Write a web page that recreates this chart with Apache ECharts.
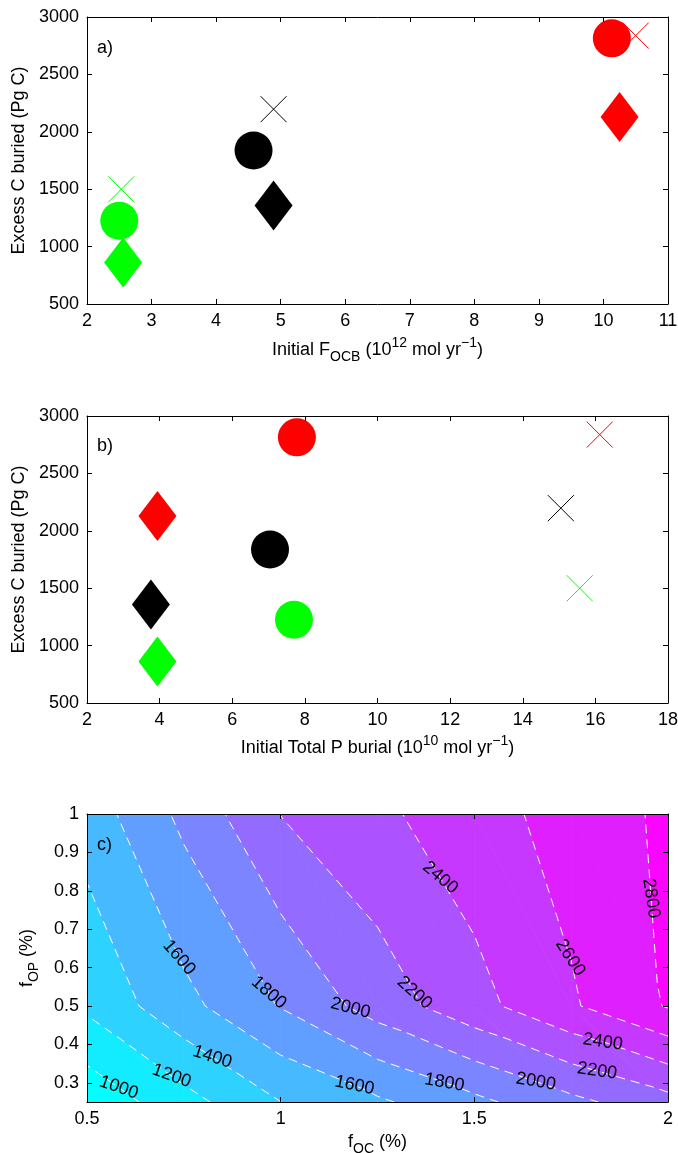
<!DOCTYPE html>
<html>
<head>
<meta charset="utf-8">
<script src="https://cdn.jsdelivr.net/npm/echarts@6/dist/echarts.min.js"></script>
<style>html,body{margin:0;padding:0;background:#fff}#chart{width:678px;height:1153px}</style>
</head>
<body>
<div id="chart"></div>
<script>
// ---------------- DATA ----------------
// marker groups (colour of each run)
const groupColors = ['#00ff00', '#000000', '#ff0000'];
// Excess C buried (Pg C) for each marker type
const excessCircle  = [1225, 1837, 2814];
const excessDiamond = [861, 1359, 2128];
const excessCross   = [1499, 2197, 2838];
// Panel a: initial F_OCB (1e12 mol/yr)
const focbCircle  = [2.50, 4.58, 10.13];
const focbDiamond = [2.56, 4.89, 10.25];
const focbCross   = [2.53, 4.89, 10.50];
// Panel b: initial total P burial (1e10 mol/yr)
const pBurialCircle  = [7.70, 7.04, 7.78];
const pBurialDiamond = [3.94, 3.76, 3.94];
const pBurialCross   = [15.57, 15.05, 16.12];

// Panel c: excess C buried on an f_OC x f_OP grid
const fOC = [0.5, 0.75, 1.0, 1.25, 1.5, 1.75, 2.0];
const fOP = [0.25, 0.5, 1.0];
const excessAtFop025 = [853, 1126, 1398, 1569, 1751, 1949, 2130];
const excessAtFop050 = [1238, 1540, 1812, 2089, 2331, 2576, 2815];
const excessAtFop100 = [1490, 1849, 2203, 2359, 2518, 2678, 2838];
const contourLevels = [1000, 1200, 1400, 1600, 1800, 2000, 2200, 2400, 2600, 2800];
// contour labels: [level, approx f_OC, approx f_OP]
const contourLabels = [
  [1000, 0.581, 0.286], [1200, 0.725, 0.327], [1400, 0.83, 0.377],
  [1600, 0.742, 0.628], [1800, 0.960, 0.529], [2000, 1.180, 0.494],
  [1600, 1.193, 0.299], [2200, 1.344, 0.533], [1800, 1.425, 0.307],
  [2000, 1.662, 0.3125], [2200, 1.819, 0.338], [2400, 1.831, 0.405],
  [2400, 1.395, 0.824], [2600, 1.730, 0.620], [2800, 1.949, 0.780]
];

// tick labels
const xTicksA = [2, 3, 4, 5, 6, 7, 8, 9, 10, 11];
const xTicksB = [2, 4, 6, 8, 10, 12, 14, 16, 18];
const yTicksAB = [500, 1000, 1500, 2000, 2500, 3000];
const xTicksC = [0.5, 1, 1.5, 2];
const yTicksC = [0.3, 0.4, 0.5, 0.6, 0.7, 0.8, 0.9, 1];
const yRangeC = [0.25, 1];

// ---------------- STYLE ----------------
const FONT = '"Liberation Sans", Arial, Helvetica, sans-serif';
const richName = {
  m:   {fontSize: 18, fontFamily: FONT, color: '#000', lineHeight: 28},
  sub: {fontSize: 14, fontFamily: FONT, color: '#000', lineHeight: 8, verticalAlign: 'bottom'},
  sup: {fontSize: 14, fontFamily: FONT, color: '#000', lineHeight: 16, verticalAlign: 'top'}
};
const GRIDS = [
  {left: 87, top: 17, width: 581, height: 287, outerBoundsMode: 'none', containLabel: false},
  {left: 87, top: 416, width: 581, height: 287, outerBoundsMode: 'none', containLabel: false},
  {left: 87, top: 814, width: 581, height: 288, outerBoundsMode: 'none', containLabel: false}
];

function baseAxis(extra) {
  return Object.assign({
    type: 'value', z: 10,
    axisLine: {show: true, onZero: false, lineStyle: {color: '#000', width: 1}},
    axisTick: {show: true, inside: true, length: 5, lineStyle: {color: '#000', width: 1}},
    splitLine: {show: false},
    axisLabel: {color: '#000', fontSize: 18, fontFamily: FONT, margin: 8, formatter: v => String(v)},
    nameTextStyle: {verticalAlign: 'middle', rich: richName}
  }, extra);
}
function mirror(ax, pos) {
  const a = Object.assign({}, ax);
  a.position = pos;
  a.axisLabel = Object.assign({}, ax.axisLabel, {show: false});
  a.name = '';
  return a;
}
const first = a => a[0], last = a => a[a.length - 1];

const xA = baseAxis({gridIndex: 0, min: first(xTicksA), max: last(xTicksA), interval: xTicksA[1] - xTicksA[0],
  name: '{m|Initial F}{sub|OCB}{m| (10}{sup|12}{m| mol yr}{sup|\u22121}{m|)}', nameLocation: 'middle', nameGap: 46});
const yA = baseAxis({gridIndex: 0, min: first(yTicksAB), max: last(yTicksAB), interval: yTicksAB[1] - yTicksAB[0],
  name: '{m|Excess C buried (Pg C)}', nameLocation: 'middle', nameGap: 67});
const xB = baseAxis({gridIndex: 1, min: first(xTicksB), max: last(xTicksB), interval: xTicksB[1] - xTicksB[0],
  name: '{m|Initial Total P burial (10}{sup|10}{m| mol yr}{sup|\u22121}{m|)}', nameLocation: 'middle', nameGap: 45});
const yB = baseAxis({gridIndex: 1, min: first(yTicksAB), max: last(yTicksAB), interval: yTicksAB[1] - yTicksAB[0],
  name: '{m|Excess C buried (Pg C)}', nameLocation: 'middle', nameGap: 67});
const xC = baseAxis({gridIndex: 2, min: first(xTicksC), max: last(xTicksC), interval: xTicksC[1] - xTicksC[0],
  name: '{m|f}{sub|OC}{m| (%)}', nameLocation: 'middle', nameGap: 40});
const yC = baseAxis({gridIndex: 2, min: yRangeC[0], max: yRangeC[1],
  name: '{m|f}{sub|OP}{m| (%)}', nameLocation: 'middle', nameGap: 60});
yC.axisLabel = Object.assign({}, yC.axisLabel, {customValues: yTicksC});
yC.axisTick = Object.assign({}, yC.axisTick, {customValues: yTicksC});

const xAxes = [xA, mirror(xA, 'top'), xB, mirror(xB, 'top'), xC, mirror(xC, 'top')];
const yAxes = [yA, mirror(yA, 'right'), yB, mirror(yB, 'right'), yC, mirror(yC, 'right')];
xAxes.forEach((a, i) => { if (i % 2 === 0) a.position = 'bottom'; });
yAxes.forEach((a, i) => { if (i % 2 === 0) a.position = 'left'; });

// ---------------- SCATTER ----------------
const CROSS = 'path://M0,0L10,10M10,0L0,10';
function scatterSet(xi, yi, xs, ys, symbol, size, hollow) {
  return {
    type: 'scatter', xAxisIndex: xi, yAxisIndex: yi, symbol: symbol, symbolSize: size,
    silent: true, animation: false, z: 5,
    data: xs.map((x, k) => ({
      value: [x, ys[k]],
      itemStyle: hollow ? {color: 'none', borderColor: groupColors[k], borderWidth: 1, opacity: 1}
                        : {color: groupColors[k], borderWidth: 0, opacity: 1}
    }))
  };
}
const scatterSeries = [
  scatterSet(0, 0, focbCircle, excessCircle, 'circle', 38, false),
  scatterSet(0, 0, focbDiamond, excessDiamond, 'diamond', [38, 50], false),
  scatterSet(0, 0, focbCross, excessCross, CROSS, 26, true),
  scatterSet(2, 2, pBurialCircle, excessCircle, 'circle', 38, false),
  scatterSet(2, 2, pBurialDiamond, excessDiamond, 'diamond', [38, 50], false),
  scatterSet(2, 2, pBurialCross, excessCross, CROSS, 26, true)
];

// ---------------- CONTOUR (panel c) ----------------
const gridRows = [excessAtFop025, excessAtFop050, excessAtFop100];
const vtx = (i, j) => [fOC[i], fOP[j], gridRows[j][i]];
const triangles = [];
for (let j = 0; j < fOP.length - 1; j++) {
  for (let i = 0; i < fOC.length - 1; i++) {
    const bl = vtx(i, j), br = vtx(i + 1, j), tl = vtx(i, j + 1), tr = vtx(i + 1, j + 1);
    triangles.push([bl, br, tl]);
    triangles.push([br, tr, tl]);
  }
}
let zMin = Infinity, zMax = -Infinity;
gridRows.forEach(r => r.forEach(v => { zMin = Math.min(zMin, v); zMax = Math.max(zMax, v); }));
function coolColor(v) {
  const t = Math.max(0, Math.min(1, (v - zMin) / (zMax - zMin)));
  return 'rgb(' + Math.round(255 * t) + ',' + Math.round(255 * (1 - t)) + ',255)';
}
function clipPoly(poly, val, keepAbove) {
  const out = [];
  for (let n = 0; n < poly.length; n++) {
    const a = poly[n], b = poly[(n + 1) % poly.length];
    const ina = keepAbove ? a[2] >= val : a[2] <= val;
    const inb = keepAbove ? b[2] >= val : b[2] <= val;
    if (ina) out.push(a);
    if (ina !== inb) {
      const t = (val - a[2]) / (b[2] - a[2]);
      out.push([a[0] + t * (b[0] - a[0]), a[1] + t * (b[1] - a[1]), val]);
    }
  }
  return out;
}
const bandLo = [-Infinity].concat(contourLevels);
const bandHi = contourLevels.concat([Infinity]);
const bandPolys = [];
triangles.forEach(tri => {
  for (let k = 0; k < bandLo.length; k++) {
    let p = tri;
    if (isFinite(bandLo[k])) p = clipPoly(p, bandLo[k], true);
    if (p.length >= 3 && isFinite(bandHi[k])) p = clipPoly(p, bandHi[k], false);
    if (p.length >= 3) bandPolys.push({pts: p, color: coolColor(k === 0 ? zMin : bandLo[k])});
  }
});
// iso segments, chained into polylines
const contourLines = [];
contourLevels.forEach(L => {
  const segs = [];
  triangles.forEach(tri => {
    const pts = [];
    for (let n = 0; n < 3; n++) {
      const a = tri[n], b = tri[(n + 1) % 3];
      if ((a[2] >= L) !== (b[2] >= L)) {
        const t = (L - a[2]) / (b[2] - a[2]);
        pts.push([a[0] + t * (b[0] - a[0]), a[1] + t * (b[1] - a[1])]);
      }
    }
    if (pts.length === 2) segs.push(pts);
  });
  const key = p => p[0].toFixed(6) + ',' + p[1].toFixed(6);
  const used = segs.map(() => false);
  const findNext = (pt) => {
    const k = key(pt);
    for (let s = 0; s < segs.length; s++) {
      if (used[s]) continue;
      if (key(segs[s][0]) === k) { used[s] = true; return segs[s][1]; }
      if (key(segs[s][1]) === k) { used[s] = true; return segs[s][0]; }
    }
    return null;
  };
  for (let s = 0; s < segs.length; s++) {
    if (used[s]) continue;
    used[s] = true;
    const line = [segs[s][0], segs[s][1]];
    let nx;
    while ((nx = findNext(line[line.length - 1]))) line.push(nx);
    while ((nx = findNext(line[0]))) line.unshift(nx);
    contourLines.push(line);
  }
});
function surface(x, y) {
  let i = 0; while (i < fOC.length - 2 && x > fOC[i + 1]) i++;
  let j = 0; while (j < fOP.length - 2 && y > fOP[j + 1]) j++;
  const x0 = fOC[i], x1 = fOC[i + 1], y0 = fOP[j], y1 = fOP[j + 1];
  const z00 = gridRows[j][i], z10 = gridRows[j][i + 1], z01 = gridRows[j + 1][i], z11 = gridRows[j + 1][i + 1];
  const u = (x - x0) / (x1 - x0), v = (y - y0) / (y1 - y0);
  let z, du, dv;
  if (u + v <= 1) { z = z00 + u * (z10 - z00) + v * (z01 - z00); du = z10 - z00; dv = z01 - z00; }
  else { z = z11 + (1 - u) * (z01 - z11) + (1 - v) * (z10 - z11); du = z11 - z01; dv = z11 - z10; }
  return [z, du / (x1 - x0), dv / (y1 - y0)];
}

const contourFill = {
  type: 'custom', xAxisIndex: 4, yAxisIndex: 4, clip: true, silent: true, animation: false, z: 1,
  data: bandPolys.map((p, i) => [p.pts[0][0], p.pts[0][1], i]),
  renderItem: function (params, api) {
    const p = bandPolys[api.value(2)];
    return {type: 'polygon', shape: {points: p.pts.map(q => api.coord([q[0], q[1]]))},
      style: {fill: p.color, stroke: p.color, lineWidth: 0.8}};
  }
};
const contourLineSeries = {
  type: 'custom', xAxisIndex: 4, yAxisIndex: 4, clip: true, silent: true, animation: false, z: 2,
  data: contourLines.map((l, i) => [l[0][0], l[0][1], i]),
  renderItem: function (params, api) {
    const l = contourLines[api.value(2)];
    return {type: 'polyline', shape: {points: l.map(q => api.coord(q))},
      style: {fill: null, stroke: '#ffffff', lineWidth: 1, lineDash: [9, 6]}};
  }
};
const contourLabelSeries = {
  type: 'custom', xAxisIndex: 4, yAxisIndex: 4, clip: false, silent: true, animation: false, z: 3,
  data: contourLabels.map((c, i) => [c[1], c[2], i]),
  renderItem: function (params, api) {
    const c = contourLabels[api.value(2)];
    const L = c[0];
    const p0 = api.coord([first(fOC), first(fOP)]), p1 = api.coord([last(fOC), last(fOP)]);
    const sx = (p1[0] - p0[0]) / (last(fOC) - first(fOC));
    const sy = (p1[1] - p0[1]) / (last(fOP) - first(fOP));
    let x = c[1], y = c[2], s = surface(x, y);
    for (let it = 0; it < 6; it++) {
      const gx = s[1] / sx, gy = s[2] / sy;
      const d = (L - s[0]) / (gx * gx + gy * gy);
      x += d * gx / sx; y += d * gy / sy;
      s = surface(x, y);
    }
    const gx = s[1] / sx, gy = s[2] / sy;
    let tx = -gy, ty = gx;
    if (tx < 0) { tx = -tx; ty = -ty; }
    const ang = Math.atan2(ty * 0.5, tx);
    const pt = api.coord([x, y]);
    return {type: 'text', x: pt[0], y: pt[1], rotation: -ang,
      style: {text: String(L), fill: '#000', fontSize: 18, fontFamily: FONT,
        align: 'center', verticalAlign: 'middle', textAlign: 'center', textVerticalAlign: 'middle'}};
  }
};

// ---------------- CHART ----------------
const chart = echarts.init(document.getElementById('chart'), null, {renderer: 'canvas', width: 678, height: 1153});
chart.setOption({
  animation: false,
  backgroundColor: '#ffffff',
  grid: GRIDS,
  xAxis: xAxes,
  yAxis: yAxes,
  series: [contourFill, contourLineSeries, contourLabelSeries].concat(scatterSeries),
  graphic: [
    {type: 'text', x: 97, y: 48, z: 100, style: {text: 'a)', fill: '#000', fontSize: 18, fontFamily: FONT, verticalAlign: 'middle', textVerticalAlign: 'middle'}},
    {type: 'text', x: 97, y: 446, z: 100, style: {text: 'b)', fill: '#000', fontSize: 18, fontFamily: FONT, verticalAlign: 'middle', textVerticalAlign: 'middle'}},
    {type: 'text', x: 97, y: 845, z: 100, style: {text: 'c)', fill: '#000', fontSize: 18, fontFamily: FONT, verticalAlign: 'middle', textVerticalAlign: 'middle'}}
  ]
});
</script>
</body>
</html>
